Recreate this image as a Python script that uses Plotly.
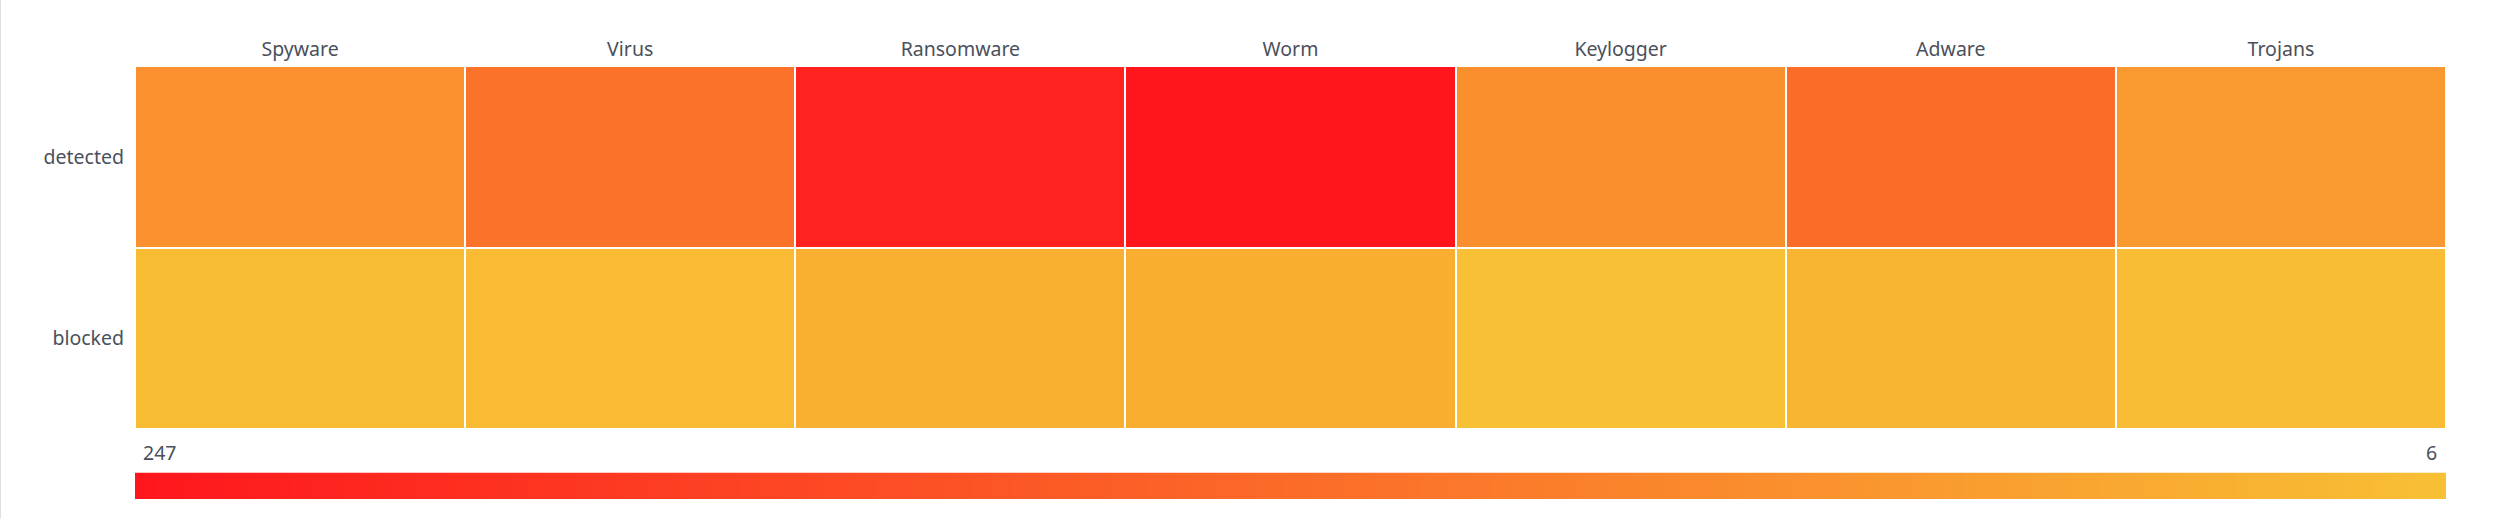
import plotly.graph_objects as go

categories = ["Spyware", "Virus", "Ransomware", "Worm", "Keylogger", "Adware", "Trojans"]
rows = ["detected", "blocked"]
detected = [73, 115, 230, 247, 76, 125, 61]
blocked = [12, 13, 29, 32, 6, 22, 10]

z = [detected, blocked]
zmin = min(min(detected), min(blocked))
zmax = max(max(detected), max(blocked))

colorscale = [[0.0, "#f8c034"], [1.0, "#ff161d"]]

W, H = 2500, 529
def py(px):
    return 1 - px / H

fig = go.Figure()
fig.add_trace(go.Heatmap(
    z=z, x=categories, y=rows,
    colorscale=colorscale, zmin=zmin, zmax=zmax,
    xgap=2, ygap=2, showscale=False,
    hovertemplate="%{y} %{x}: %{z}<extra></extra>",
))
# gradient bar (visual map) spanning max -> min
fig.add_trace(go.Heatmap(
    z=[[zmax, zmin]], x=[zmax, zmin], y=[0],
    colorscale=colorscale, zmin=zmin, zmax=zmax,
    zsmooth="best", showscale=False, xaxis="x2", yaxis="y2",
    hoverinfo="skip",
))

font_color = "#4a505c"
fsize = 19.5
fig.update_layout(
    width=W, height=H,
    margin=dict(l=135, r=54, t=0, b=0),
    paper_bgcolor="#ffffff", plot_bgcolor="#ffffff",
    font=dict(family="Noto Sans, Open Sans, sans-serif", size=fsize, color=font_color),
    xaxis=dict(side="top", domain=[0, 1], showgrid=False, zeroline=False,
               ticks="", showline=False, ticklabelstandoff=5,
               tickfont=dict(size=fsize, color=font_color)),
    yaxis=dict(domain=[py(429), py(66)], autorange="reversed", showgrid=False,
               zeroline=False, ticks="", ticklabelstandoff=10,
               tickfont=dict(size=fsize, color=font_color)),
    xaxis2=dict(domain=[0, 1], anchor="y2", range=[zmax, zmin], showgrid=False,
                zeroline=False, showticklabels=False, ticks="", fixedrange=True),
    yaxis2=dict(domain=[py(499), py(472.5)], anchor="x2", range=[-0.5, 0.5],
                showgrid=False, zeroline=False, showticklabels=False, ticks="",
                fixedrange=True),
    annotations=[
        dict(text=str(zmax), x=0, xref="x2 domain", xanchor="left", xshift=6,
             y=py(452), yref="paper", yanchor="middle", showarrow=False,
             font=dict(size=fsize, color=font_color)),
        dict(text=str(zmin), x=1, xref="x2 domain", xanchor="right", xshift=-7,
             y=py(452), yref="paper", yanchor="middle", showarrow=False,
             font=dict(size=fsize, color=font_color)),
    ],
    shapes=[
        dict(type="line", xref="paper", yref="paper", x0=-135 / (W - 189), x1=-135 / (W - 189),
             y0=0.02, y1=1, line=dict(color="#dde1e6", width=2)),
    ],
)

fig.write_html("out.html")
